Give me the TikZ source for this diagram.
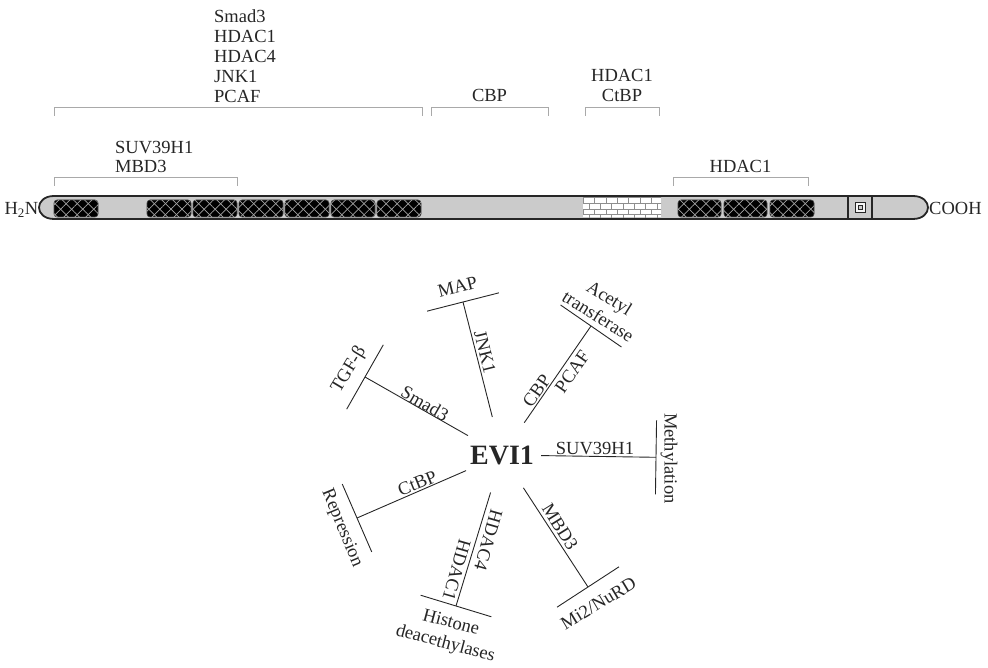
\documentclass[tikz,border=0pt]{standalone}
\usepackage{fontspec}
\setmainfont{Liberation Serif}
\usepackage{tikz}
\usetikzlibrary{calc,patterns,patterns.meta}
\definecolor{evink}  {HTML}{262626}
\definecolor{evbar}  {HTML}{CBCBCB}
\definecolor{evrule} {HTML}{A9A9A9}
\definecolor{evhatch}{HTML}{A3A3A3}
\definecolor{evbrick}{HTML}{8E8E8E}
\tikzset{
  evlabel/.style={font=\fontsize{18.5}{19.8}\selectfont, text=evink, inner sep=0pt},
  evtilt/.style={evlabel, font=\fontsize{18.5}{21.5}\selectfont, align=center},
  evbracket/.style={draw=evrule, line width=0.9pt},
  evbarline/.style={draw=evink, line width=1.8pt, fill=evbar},
  evdomain/.style={draw=evink!85, line width=0.6pt, fill=black, rounded corners=3pt,
    postaction={pattern={Lines[angle=45,distance=7.8pt,line width=0.7pt]}, pattern color=evhatch},
    postaction={pattern={Lines[angle=-45,distance=7.8pt,line width=0.7pt]}, pattern color=evhatch}},
  evline/.style={draw=evink, line width=0.9pt},
}

\begin{document}
\begin{tikzpicture}[x=1pt,y=1pt]
  \useasboundingbox (0,0) rectangle (988,667);
  % binding regions
  \draw[evbracket] (54,551) |- (422,560) -- (422,551);
  \draw[evbracket] (431,551) |- (548,560) -- (548,551);
  \draw[evbracket] (585,551) |- (659,560) -- (659,551);
  \draw[evbracket] (54,481) |- (237,490) -- (237,481);
  \draw[evbracket] (673,481) |- (808,490) -- (808,481);
  \node[evlabel,align=left,anchor=south west] (topset) at (214,564.5) {Smad3\\HDAC1\\HDAC4\\JNK1\\PCAF};
  \node[evlabel,anchor=base] (cbpset) at (489.5,565.3) {CBP};
  \node[evlabel,align=center,anchor=south] (ctbpset) at (622,565.3) {HDAC1\\CtBP};
  \node[evlabel,align=left,anchor=south west] (suvset) at (115,493.7) {SUV39H1\\MBD3};
  \node[evlabel,anchor=base] (hdacset) at (740.5,494.7) {HDAC1};

  % protein
  \draw[evbarline] (54,471) -- (913,471) .. controls (923,471) and (928,465) .. (928,459.5)
    .. controls (928,454) and (923,448) .. (913,448) -- (54,448)
    .. controls (44,448) and (39,454) .. (39,459.5) .. controls (39,465) and (44,471) .. (54,471) -- cycle;
  \draw[evdomain] (54,450) rectangle (98,467);   \draw[evdomain] (147,450) rectangle (191,467);
  \draw[evdomain] (193,450) rectangle (237,467); \draw[evdomain] (239,450) rectangle (283,467);
  \draw[evdomain] (285,450) rectangle (329,467); \draw[evdomain] (331,450) rectangle (375,467);
  \draw[evdomain] (377,450) rectangle (421,467);
  \draw[evdomain] (678,450) rectangle (721,467); \draw[evdomain] (724,450) rectangle (767,467);
  \draw[evdomain] (770,450) rectangle (814,467);
  \fill[white] (583,449.5) rectangle (661,469);
  \fill[pattern=bricks,pattern color=evbrick] (583,449.5) rectangle (661,469);
  \draw[evink,line width=1.2pt] (848,448) -- (848,471) (872,448) -- (872,471);
  \draw[evink,line width=1pt,fill=white!80!evbar] (855,454.5) rectangle (865,464.5);
  \draw[evink,line width=1pt,fill=evbar] (858,457.5) rectangle (862,461.5);
  \node[evlabel,anchor=base east] (nterm) at (38.5,452) {H\textsubscript{2}N};
  \node[evlabel,anchor=base west] (cterm) at (929,452) {COOH};

  % partners of EVI1
  \node[circle,inner sep=0pt,minimum size=78pt,text=evink,
        font=\bfseries\fontsize{28}{30}\selectfont] (evi) at (502,212) {EVI1};
  \coordinate (smadT) at (365,290);  \coordinate (jnkT) at (463,365);
  \coordinate (cbpT) at (591,341);   \coordinate (suvT) at (656,209.7);
  \coordinate (ctbpT) at (357,149);  \coordinate (hdacT) at (456,61);
  \coordinate (mbdT) at (588,80);
  \draw[evline] (evi) -- (smadT); \draw[evline] ($(smadT)!37pt!90:(evi)$) -- ($(smadT)!37pt!-90:(evi)$);
  \draw[evline] (evi) -- (jnkT);  \draw[evline] ($(jnkT)!37pt!90:(evi)$) -- ($(jnkT)!37pt!-90:(evi)$);
  \draw[evline] (evi) -- (cbpT);  \draw[evline] ($(cbpT)!37pt!90:(evi)$) -- ($(cbpT)!37pt!-90:(evi)$);
  \draw[evline] (evi) -- (suvT);  \draw[evline] ($(suvT)!37pt!90:(evi)$) -- ($(suvT)!37pt!-90:(evi)$);
  \draw[evline] (evi) -- (ctbpT); \draw[evline] ($(ctbpT)!37pt!90:(evi)$) -- ($(ctbpT)!37pt!-90:(evi)$);
  \draw[evline] (evi) -- (hdacT); \draw[evline] ($(hdacT)!37pt!90:(evi)$) -- ($(hdacT)!37pt!-90:(evi)$);
  \draw[evline] (evi) -- (mbdT);  \draw[evline] ($(mbdT)!37pt!90:(evi)$) -- ($(mbdT)!37pt!-90:(evi)$);
  \node[evlabel,rotate=59] (tgf) at (349,297) {TGF-β};
  \node[evlabel,rotate=-30] (smadL) at (425,263.7) {Smad3};
  \node[evlabel,rotate=14] (map) at (457.5,380) {MAP};
  \node[evlabel,rotate=-76] (jnkL) at (485,315) {JNK1};
  \node[evtilt,rotate=-32] (acetyl) at (604,360) {Acetyl\\transferase};
  \node[evlabel,rotate=55] (cbpL) at (536.7,276.3) {CBP};
  \node[evlabel,rotate=55] (pcafL) at (572.3,295.3) {PCAF};
  \node[evlabel,anchor=base] (suvL) at (595,212) {SUV39H1};
  \node[evlabel,rotate=-90] (methyl) at (669,208.7) {Methylation};
  \node[evlabel,rotate=22] (ctbpL) at (417.3,183.7) {CtBP};
  \node[evlabel,rotate=-67.5] (repr) at (341.7,138.7) {Repression};
  \node[evlabel,rotate=-106] (hdac4L) at (488.3,127) {HDAC4};
  \node[evlabel,rotate=-106] (hdac1L) at (456.7,97) {HDAC1};
  \node[evtilt,rotate=-15] (histone) at (448,33) {Histone\\deacethylases};
  \node[evlabel,rotate=-58] (mbdL) at (560,140.3) {MBD3};
  \node[evlabel,rotate=31] (mi2) at (598.3,63.7) {Mi2/NuRD};
\end{tikzpicture}
\end{document}
